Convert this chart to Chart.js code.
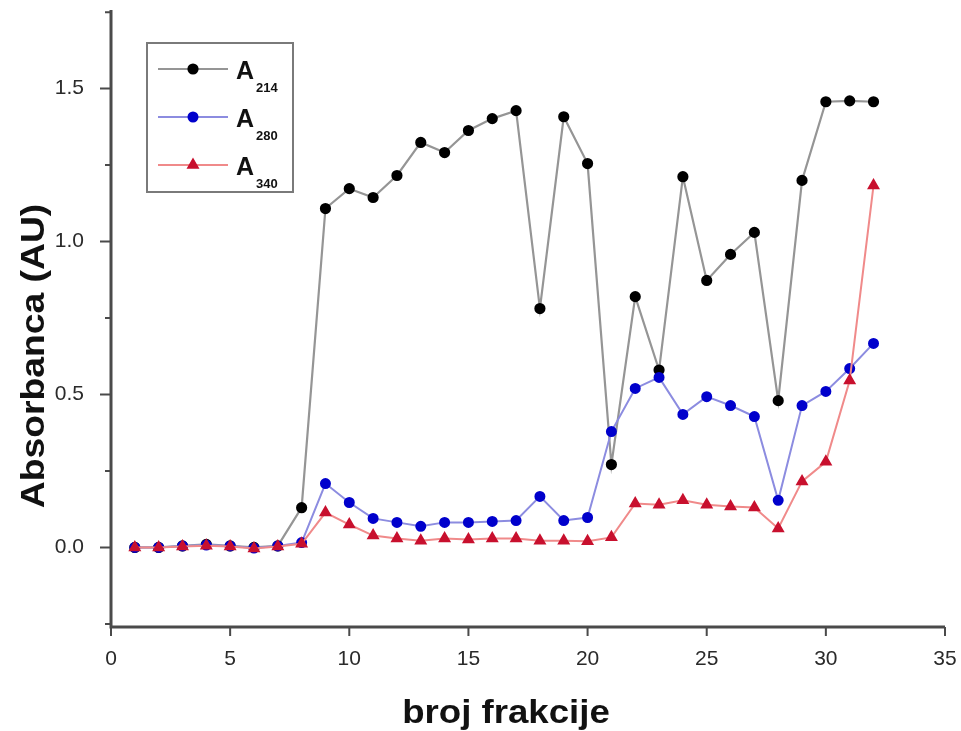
<!DOCTYPE html>
<html>
<head>
<meta charset="utf-8">
<script src="https://cdn.jsdelivr.net/npm/chart.js@4.4.0/dist/chart.umd.min.js"></script>
<style>
  html, body { margin: 0; padding: 0; background: #fff; }
  #wrap { width: 961px; height: 731px; }
</style>
</head>
<body>
<div id="wrap"><canvas id="absChart" width="961" height="731"></canvas></div>
<script>
// fraction numbers and absorbance readings
const fractions = [1, 2, 3, 4, 5, 6, 7, 8, 9, 10, 11, 12, 13, 14, 15, 16,
  17, 18, 19, 20, 21, 22, 23, 24, 25, 26, 27, 28, 29, 30, 31, 32];
const a214 = [0.0, 0.0, 0.005, 0.01, 0.005, 0.0, 0.005, 0.13, 1.108, 1.173, 1.144, 1.216,
  1.324, 1.291, 1.363, 1.402, 1.428, 0.781, 1.408, 1.255, 0.271, 0.82, 0.58, 1.212,
  0.873, 0.958, 1.03, 0.48, 1.2, 1.457, 1.46, 1.457];
const a280 = [0.0, 0.0, 0.005, 0.008, 0.005, -0.002, 0.005, 0.016, 0.209, 0.147, 0.095, 0.082,
  0.069, 0.082, 0.082, 0.085, 0.088, 0.167, 0.088, 0.098, 0.379, 0.52, 0.556, 0.435,
  0.493, 0.464, 0.428, 0.154, 0.464, 0.51, 0.585, 0.667];
const a340 = [0.0, 0.0, 0.003, 0.006, 0.003, -0.003, 0.003, 0.012, 0.114, 0.075, 0.039, 0.029,
  0.022, 0.029, 0.026, 0.029, 0.029, 0.022, 0.022, 0.02, 0.033, 0.144, 0.14, 0.154,
  0.14, 0.134, 0.131, 0.062, 0.216, 0.28, 0.546, 1.183];
const seriesSubs = ['214', '280', '340'];
const xTicks = [0, 5, 10, 15, 20, 25, 30, 35];
const yTicks = [0, 0.5, 1.0, 1.5];
const yMinorTicks = [-0.25, 0.25, 0.75, 1.25, 1.75];

const toPoints = arr => arr.map((v, i) => ({ x: fractions[i], y: v }));

const noPad = scale => {
  scale.paddingTop = 0; scale.paddingBottom = 0;
  scale.paddingLeft = 0; scale.paddingRight = 0;
};

// axis lines, tick marks, titles and the boxed legend
const framePlugin = {
  id: 'frame',
  afterDraw(chart) {
    const ctx = chart.ctx;
    const a = chart.chartArea;
    const xs = chart.scales.x;
    const ys = chart.scales.y;
    ctx.save();
    ctx.strokeStyle = '#4a4a4a';
    ctx.lineWidth = 3;
    ctx.beginPath();
    ctx.moveTo(a.left, a.top);
    ctx.lineTo(a.left, a.bottom);
    ctx.lineTo(a.right, a.bottom);
    ctx.stroke();

    ctx.lineWidth = 2;
    ctx.beginPath();
    yTicks.forEach(v => {
      const y = ys.getPixelForValue(v);
      ctx.moveTo(a.left, y); ctx.lineTo(a.left - 11, y);
    });
    yMinorTicks.forEach(v => {
      const y = ys.getPixelForValue(v);
      ctx.moveTo(a.left, y); ctx.lineTo(a.left - 6, y);
    });
    xTicks.forEach(v => {
      const x = xs.getPixelForValue(v);
      ctx.moveTo(x, a.bottom); ctx.lineTo(x, a.bottom + 9);
    });
    ctx.stroke();

    // axis titles (source text is a bit wider than Arial)
    ctx.fillStyle = '#111';
    ctx.font = 'bold 33px "Liberation Sans", Arial, sans-serif';
    ctx.textAlign = 'center';
    ctx.textBaseline = 'alphabetic';
    ctx.save();
    ctx.translate(506, 723);
    ctx.scale(1.11, 1);
    ctx.fillText('broj frakcije', 0, 0);
    ctx.restore();

    ctx.save();
    ctx.translate(44, 356);
    ctx.rotate(-Math.PI / 2);
    ctx.scale(1.13, 1);
    ctx.fillText('Absorbanca (AU)', 0, 0);
    ctx.restore();

    // legend box
    ctx.strokeStyle = '#7a7a7a';
    ctx.lineWidth = 2;
    ctx.strokeRect(147, 43, 146, 149);
    const rowY = [69, 117, 165];
    chart.data.datasets.forEach((ds, i) => {
      const y = rowY[i];
      ctx.strokeStyle = ds.borderColor;
      ctx.lineWidth = ds.borderWidth;
      ctx.beginPath();
      ctx.moveTo(158, y); ctx.lineTo(228, y);
      ctx.stroke();
      ctx.fillStyle = ds.pointBackgroundColor;
      ctx.strokeStyle = ds.pointBorderColor;
      Chart.helpers.drawPoint(ctx, {
        pointStyle: ds.pointStyle, radius: ds.pointRadius, rotation: 0, borderWidth: 1
      }, 193, y);
      ctx.fillStyle = '#111';
      ctx.textAlign = 'left';
      ctx.font = 'bold 25px "Liberation Sans", Arial, sans-serif';
      ctx.fillText('A', 236, y + 10);
      ctx.font = 'bold 13px "Liberation Sans", Arial, sans-serif';
      ctx.fillText(seriesSubs[i], 256, y + 23);
    });
    ctx.restore();
  }
};

new Chart(document.getElementById('absChart').getContext('2d'), {
  type: 'line',
  data: {
    datasets: [
      {
        label: 'A214',
        data: toPoints(a214),
        borderColor: '#959595',
        borderWidth: 2.2,
        pointStyle: 'circle',
        pointRadius: 4.5,
        pointBackgroundColor: '#000',
        pointBorderColor: '#000',
        order: 3
      },
      {
        label: 'A280',
        data: toPoints(a280),
        borderColor: '#8c8ce0',
        borderWidth: 2,
        pointStyle: 'circle',
        pointRadius: 4.5,
        pointBackgroundColor: '#0000cc',
        pointBorderColor: '#0000cc',
        order: 2
      },
      {
        label: 'A340',
        data: toPoints(a340),
        borderColor: '#f08a8a',
        borderWidth: 2,
        pointStyle: 'triangle',
        pointRadius: 5.5,
        pointBackgroundColor: '#c8102e',
        pointBorderColor: '#c8102e',
        order: 1
      }
    ]
  },
  options: {
    responsive: false,
    animation: false,
    layout: { padding: { top: 10, right: 16, left: 0, bottom: 0 } },
    plugins: {
      legend: { display: false },
      tooltip: { enabled: false }
    },
    scales: {
      x: {
        type: 'linear',
        min: 0,
        max: 35,
        afterBuildTicks: scale => { scale.ticks = xTicks.map(v => ({ value: v })); },
        afterFit: scale => { scale.height = 104; noPad(scale); },
        ticks: {
          color: '#2a2a2a',
          padding: 12,
          font: { family: '"Liberation Sans", Arial, sans-serif', size: 21 }
        },
        grid: { display: false },
        border: { display: false }
      },
      y: {
        min: -0.26,
        max: 1.757,
        afterBuildTicks: scale => { scale.ticks = yTicks.map(v => ({ value: v })); },
        afterFit: scale => { scale.width = 111; noPad(scale); },
        ticks: {
          color: '#2a2a2a',
          padding: 19,
          callback: v => v.toFixed(1),
          font: { family: '"Liberation Sans", Arial, sans-serif', size: 21 }
        },
        grid: { display: false },
        border: { display: false }
      }
    }
  },
  plugins: [framePlugin]
});
</script>
</body>
</html>
